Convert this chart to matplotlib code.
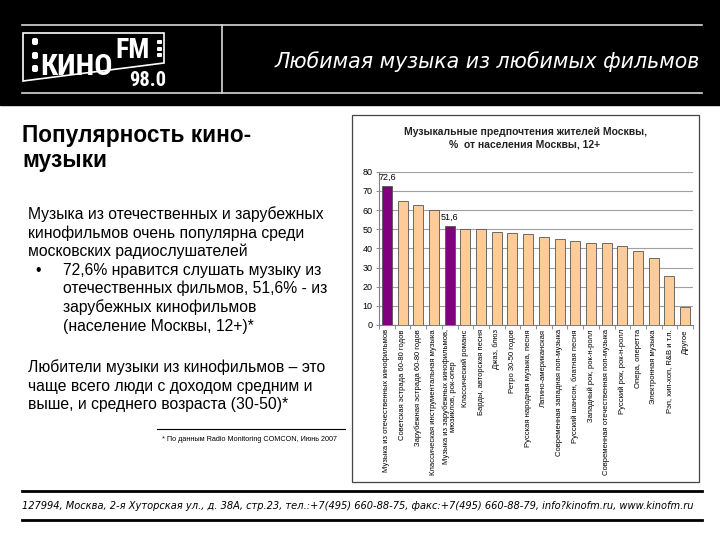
import numpy as np
import matplotlib
matplotlib.use('Agg')
import matplotlib.pyplot as plt
from matplotlib.patches import Rectangle, Polygon, FancyBboxPatch
from matplotlib import font_manager
from matplotlib.font_manager import FontProperties

# chart data (% of Moscow population 12+)
categories = [
    'Музыка из отечественных кинофильмов',
    'Советская эстрада 60-80 годов',
    'Зарубежная эстрада 60-80 годов',
    'Классическая инструментальная музыка',
    'Музыка из зарубежных кинофильмов,\nмюзиклов, рок-опер',
    'Классический романс',
    'Барды, авторская песня',
    'Джаз, блюз',
    'Ретро 30-50 годов',
    'Русская народная музыка, песня',
    'Латино-американская',
    'Современная западная поп-музыка',
    'Русский шансон, блатная песня',
    'Западный рок, рок-н-ролл',
    'Современная отечественная поп-музыка',
    'Русский рок, рок-н-ролл',
    'Опера, оперетта',
    'Электронная музыка',
    'Рэп, хип-хоп, R&B и т.п.',
    'Другое',
]
values = [72.6, 64.8, 62.7, 60.0, 51.6, 50.3, 50.1, 48.6, 48.0, 47.6,
          45.7, 45.0, 44.0, 42.8, 42.6, 41.0, 38.6, 34.8, 25.4, 9.2]
highlight = [0, 4]          # film music bars
yticks = [0, 10, 20, 30, 40, 50, 60, 70, 80]

chart_title = 'Музыкальные предпочтения жителей Москвы,\n%  от населения Москвы, 12+'
slide_title = ['Популярность кино-', 'музыки']
intro = ['Музыка из отечественных и зарубежных',
         'кинофильмов очень популярна среди',
         'московских радиослушателей']
bullet = ['72,6% нравится слушать музыку из',
          'отечественных фильмов, 51,6% - из',
          'зарубежных кинофильмов',
          '(население Москвы, 12+)*']
outro = ['Любители музыки из кинофильмов – это',
         'чаще всего люди с доходом средним и',
         'выше, и среднего возраста (30-50)*']
footnote = '* По данным Radio Monitoring COMCON, Июнь 2007'
tagline = 'Любимая музыка из любимых фильмов'
address = ('127994, Москва, 2-я Хуторская ул., д. 38А, стр.23, тел.:+7(495) 660-88-75, '
           'факс:+7(495) 660-88-79, info?kinofm.ru, www.kinofm.ru')

sans = 'Liberation Sans'
plt.rcParams['font.family'] = [sans, 'DejaVu Sans']

# a condensed bold face for the logo, if there is one
logo_font = FontProperties(family=sans, weight='bold')
files = [f.fname for f in font_manager.fontManager.ttflist]
for key in ['LiberationSansNarrow-Bold', 'RobotoCondensed-Bold', 'DejaVuSansCondensed-Bold']:
    hits = [p for p in files if key in p]
    if hits:
        logo_font = FontProperties(fname=hits[0])
        break

fig = plt.figure(figsize=(7.2, 5.4), dpi=100)

# slide background in pixel coords
bg = fig.add_axes([0, 0, 1, 1])
bg.set_xlim(0, 720)
bg.set_ylim(540, 0)
bg.axis('off')

# header band
bg.add_patch(Rectangle((0, 0), 720, 105, color='black'))
bg.plot([22, 702], [25, 25], color='#d8d8d8', lw=1.2)
bg.plot([22, 702], [93, 93], color='#d8d8d8', lw=1.2)
bg.plot([222, 222], [25, 93], color='#d8d8d8', lw=1.2)

# logo
bg.add_patch(Polygon([(23, 33), (164, 33), (164, 63), (23, 81)], closed=True,
                     fill=False, ec='white', lw=1.2))
for yy in [38, 52, 65]:
    bg.add_patch(FancyBboxPatch((32, yy), 6, 7, boxstyle='round,pad=0,rounding_size=2',
                                fc='white', ec='none'))
for yy in [40, 47, 53]:
    bg.add_patch(FancyBboxPatch((157, yy), 5, 4, boxstyle='round,pad=0,rounding_size=1',
                                fc='white', ec='none'))
kino = bg.text(40, 75, 'КИНО', fontproperties=logo_font, color='white',
               va='baseline', ha='left')
fm = bg.text(115, 58, 'FM', fontproperties=logo_font, color='white',
             va='baseline', ha='left')
num = bg.text(166, 86, '98.0', fontproperties=logo_font, color='white',
              va='baseline', ha='right')
# fit the logo words to their boxes
fig.canvas.draw()
r = fig.canvas.get_renderer()
for t, w, hmax in [(kino, 72, 38), (fm, 36, 20), (num, 37, 20)]:
    t.set_fontsize(10)
    bw = t.get_window_extent(r).width
    t.set_fontsize(min(10 * w / bw, hmax))
bg.text(700, 62, tagline, family='DejaVu Sans', style='italic', weight='light',
        fontsize=14.8, color='white', va='center', ha='right')

# left column text
bg.text(22, 142, slide_title[0], fontsize=16.3, weight='bold', va='baseline')
bg.text(22, 167, slide_title[1], fontsize=16.3, weight='bold', va='baseline')
fs = 11.3
y = 219
for line in intro:
    bg.text(28, y, line, fontsize=fs, va='baseline')
    y += 18.6
bg.text(35, y, '•', fontsize=fs, va='baseline')
for line in bullet:
    bg.text(63, y, line, fontsize=fs, va='baseline')
    y += 18.6
y = 372
for line in outro:
    bg.text(28, y, line, fontsize=fs, va='baseline')
    y += 18.6
bg.plot([157, 345], [429, 429], color='black', lw=0.8)
bg.text(162, 441, footnote, fontsize=5.2, va='baseline')

# chart frame
bg.add_patch(Rectangle((352, 115), 347, 367, fc='white', ec='#444444', lw=0.9))
bg.text(525, 138, chart_title, fontsize=7.5, weight='bold', ha='center',
        va='center', linespacing=1.3, color='#222222')

# footer
bg.plot([22, 702], [491, 491], color='black', lw=2)
bg.plot([22, 702], [520, 520], color='black', lw=2)
bg.text(22, 506, address, family='DejaVu Sans', style='italic', weight='light',
        fontsize=7.1, va='center', ha='left')

# bar chart
ax = fig.add_axes([379 / 720, 1 - 325 / 540, 314 / 720, 153.3 / 540])
x = np.arange(len(values))
colors = ['#800080' if i in highlight else '#ffcc99' for i in x]
ax.bar(x, values, width=0.64, color=colors, edgecolor='#555555', linewidth=0.6, zorder=3)
for i in highlight:
    ax.text(i, values[i] + 4.6, f'{values[i]:.1f}'.replace('.', ','),
            fontsize=6.5, ha='center', va='center')
ax.set_xlim(-0.5, len(values) - 0.5)
ax.set_ylim(0, 80)
ax.set_yticks(yticks)
ax.tick_params(axis='y', labelsize=6.5, length=2.5, width=0.6, pad=2, color='#808080')
ax.yaxis.grid(True, color='#a0a0a0', lw=0.8, zorder=0)
ax.set_xticks(x)
ax.set_xticklabels(categories, rotation=90, fontsize=5.5, va='top', ha='center',
                   linespacing=1.1)
ax.set_xticks(np.arange(len(values) + 1) - 0.5, minor=True)
ax.tick_params(axis='x', which='major', length=0, pad=3)
ax.tick_params(axis='x', which='minor', length=3, width=0.6, color='#808080')
for s in ['top', 'right']:
    ax.spines[s].set_visible(False)
ax.spines['left'].set_color('#808080')
ax.spines['bottom'].set_color('#808080')
ax.set_facecolor('none')

fig.savefig('out.png', dpi=100)
